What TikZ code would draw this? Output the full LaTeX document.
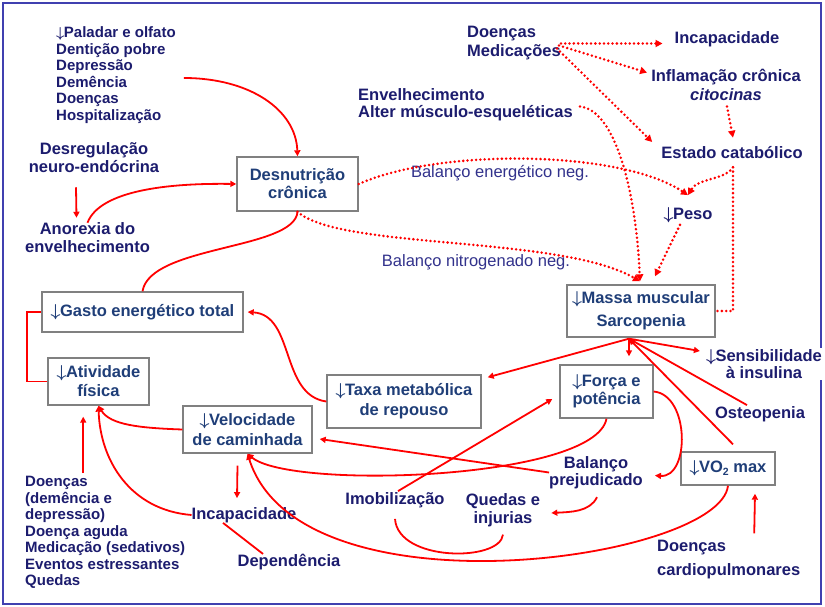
\documentclass[tikz,border=0pt]{standalone}
\usepackage{bm}
\usepackage{fontspec}
\setmainfont{Liberation Sans}
\usetikzlibrary{arrows.meta}
\definecolor{navy}{RGB}{28,28,110}
\definecolor{boxblue}{RGB}{31,62,120}
\definecolor{frameblue}{RGB}{64,64,176}
\definecolor{balblue}{RGB}{50,50,140}
\definecolor{boxgray}{RGB}{128,128,128}
\newcommand{\dwn}{$\bm{\downarrow}$\kern-0.5pt}
\begin{document}
\begin{tikzpicture}[x=1pt,y=-1pt,
  lbl/.style={font=\bfseries\fontsize{16.5}{17.5}\selectfont, text=navy, align=center, inner sep=0pt},
  lbll/.style={lbl, align=left, anchor=west},
  big/.style={font=\bfseries\fontsize{16.5}{18}\selectfont},
  bx/.style={draw=boxgray, line width=1.4pt, fill=white, text=boxblue,
    font=\bfseries\fontsize{16.5}{19}\selectfont, align=center, inner sep=0pt},
  bal/.style={font=\fontsize{16.5}{18}\selectfont, text=balblue, inner sep=0pt},
  rl/.style={red, line width=1.8pt},
  ra/.style={rl, -{Triangle[length=6pt,width=6pt]}},
  dl/.style={red, line width=2.8pt, line cap=round, dash pattern=on 0pt off 4.3pt},
  da/.style={dl, -{Triangle[length=7pt,width=7pt]}}]
\useasboundingbox (0,0) rectangle (825,607);
\fill[white] (0,0) rectangle (825,607);
\draw[frameblue, line width=2.5pt] (3,3) rectangle (821,604);

% text labels
\node[lbll, font=\bfseries\fontsize{15}{16.5}\selectfont] (paladar) at (56,75)
  {\dwn Paladar e olfato\\Dentição pobre\\Depressão\\Demência\\Doenças\\Hospitalização};
\node[lbl, big] (desreg) at (94,158) {Desregulação\\neuro-endócrina};
\node[lbl, big] (anorexia) at (87.5,238) {Anorexia do\\envelhecimento};
\node[lbll] (envel) at (358,104.5) {Envelhecimento\\Alter músculo-esqueléticas};
\node[lbll, font=\bfseries\fontsize{16.5}{19}\selectfont] (medic) at (467,43.5) {Doenças\\Medicações};
\node[lbl] (incap1) at (727,39) {Incapacidade};
\node[lbl, font=\bfseries\fontsize{16.5}{19}\selectfont] (inflam) at (726,84.5) {Inflamação crônica\\\textit{citocinas}};
\node[lbl] (estado) at (732,153) {Estado catabólico};
\node[lbl] (peso) at (688,215) {\dwn Peso};
\node[bal] (balener) at (500,173) {Balanço energético neg.};
\node[bal] (balnit) at (476,262) {Balanço nitrogenado neg.};
\node[lbl, fill=white, inner sep=1pt] (sens) at (764,364) {\dwn Sensibilidade\\à insulina};
\node[lbl] (osteo) at (760,414) {Osteopenia};
\node[lbl] (balpre) at (596,472.5) {Balanço\\prejudicado};
\node[lbl] (quedas) at (503,510) {Quedas e\\injurias};
\node[lbl] (imob) at (395,500) {Imobilização};
\node[lbl] (incap2) at (244,515) {Incapacidade};
\node[lbl] (dep) at (289,562) {Dependência};
\node[lbll, font=\bfseries\fontsize{15}{16.5}\selectfont] (doencas) at (25,532.5)
  {Doenças\\(demência e\\depressão)\\Doença aguda\\Medicação (sedativos)\\Eventos estressantes\\Quedas};
\node[lbll, font=\bfseries\fontsize{16.5}{24}\selectfont] (cardio) at (657,560) {Doenças\\cardiopulmonares};

% boxes
\node[bx, minimum width=121, minimum height=54, font=\bfseries\fontsize{16.5}{18}\selectfont] (desn) at (297.5,184) {Desnutrição\\crônica};
\node[bx, minimum width=148, minimum height=52, font=\bfseries\fontsize{16.5}{23}\selectfont] (massa) at (641,311) {\dwn Massa muscular\\Sarcopenia};
\node[bx, minimum width=201, minimum height=40] (gasto) at (142.5,312) {\dwn Gasto energético total};
\node[bx, minimum width=101, minimum height=47] (ativ) at (98.5,381.5) {\dwn Atividade\\física};
\node[bx, minimum width=154, minimum height=53, font=\bfseries\fontsize{16.5}{20}\selectfont] (taxa) at (404,401.5) {\dwn Taxa metabólica\\de repouso};
\node[bx, minimum width=129, minimum height=47, font=\bfseries\fontsize{16.5}{20}\selectfont] (vel) at (247.5,429.5) {\dwn Velocidade\\de caminhada};
\node[bx, minimum width=93, minimum height=53, font=\bfseries\fontsize{16.5}{18}\selectfont] (forca) at (606.5,391.5) {\dwn Força e\\potência};
\node[bx, minimum width=94, minimum height=33] (vo2) at (728,468.5) {\dwn VO\raisebox{-0.35ex}{\fontsize{10.5}{10.5}\selectfont 2} max};

% dotted connectors
\draw[da] (desn.east) .. controls (440,148) and (620,150) .. ([shift={(0,-12)}]peso.north);
\draw[da] (desn.south) .. controls (340,250) and (560,235) .. ([shift={(-1,-3)}]massa.north);
\draw[da] ([shift={(7,2)}]envel.east) .. controls (615,110) and (636,190) .. ([shift={(-1,-3)}]massa.north);
\draw[da, shorten >=12pt] (medic.east) -- (medic.east -| incap1.west);
\draw[da] ([shift={(-2,2)}]medic.east) -- ([shift={(-4,4)}]inflam.north west);
\draw[da] ([shift={(-4,5)}]medic.east) -- ([shift={(-9,-11)}]estado.west);
\draw[da] ([shift={(1,6)}]inflam.south) -- ([shift={(1,-9)}]estado.north);
\draw[da] ([shift={(1,8)}]estado.south) .. controls (725,180) and (698,178) .. ([shift={(0,-12)}]peso.north);
\draw[dl] ([shift={(1,8)}]estado.south) |- (massa.east);
\draw[da] ([shift={(-8,2)}]peso.south) -- ([shift={(14,-8)}]massa.north);

% solid connectors
\draw[ra] ([shift={(8,3)}]paladar.east) .. controls (250,78) and (296,110) .. (desn.north);
\draw[ra] ([shift={(-18,14)}]desreg.south) -- ([shift={(-11,-5)}]anorexia.north);
\draw[ra] (anorexia.north) .. controls (100,190) and (170,183) .. (desn.west);
\draw[rl] (desn.south) .. controls (295,250) and (150,245) .. (gasto.north);
\coordinate (mb) at ([shift={(-12,1)}]massa.south);
\draw[ra, shorten >=8pt] (mb) -- (mb |- forca.north);
\draw[ra] (mb) -- ([shift={(6,3)}]taxa.north east);
\draw[ra] (mb) -- ([shift={(-5,-13)}]sens.west);
\draw[ra] ([shift={(-13,-1)}]osteo.north) -- (mb);
\draw[ra] ([shift={(5,-7)}]vo2.north) -- (mb);
\draw[ra] (taxa.west) .. controls (280,395) and (295,315) .. ([shift={(4,0)}]gasto.east);
\draw[rl] (ativ.west) -- ([shift={(-20,0)}]ativ.west) |- (gasto.west);
\draw[ra] (vel.west) .. controls (140,428) and (110,425) .. (ativ.south);
\draw[ra] (incap2.west) .. controls (130,510) and (100,460) .. (ativ.south);
\draw[ra, shorten >=14pt] ([shift={(-22,-3)}]doencas.north) -- ([shift={(-22,-3)}]doencas.north |- ativ.south);
\draw[ra] ([shift={(-10,12)}]vel.south) -- ([shift={(-7,-9)}]incap2.north);
\draw[rl] ([shift={(-21,0)}]incap2.south) -- ([shift={(-26,0)}]dep.north);
\draw[ra] (balpre.west) -- ([shift={(7,9.5)}]vel.east);
\draw[ra] (forca.south) .. controls (595,480) and (290,490) .. (vel.south);
\draw[ra] (vo2.south) .. controls (720,560) and (300,620) .. (vel.south);
\draw[ra] ([shift={(3,-1)}]imob.north) -- ([shift={(-7,7.5)}]forca.west);
\draw[ra] (forca.east) .. controls (690,395) and (690,478) .. ([shift={(12,3)}]balpre.east);
\draw[ra] ([shift={(1,8)}]balpre.south) .. controls (590,512) and (570,512) .. ([shift={(11,3)}]quedas.east);
\draw[rl] ([shift={(0,8)}]quedas.south) .. controls (500,562) and (398,562) .. ([shift={(0,11)}]imob.south);
\draw[ra] ([shift={(25.5,-7)}]cardio.north) -- ([shift={(27,8)}]vo2.south);
\end{tikzpicture}
\end{document}
